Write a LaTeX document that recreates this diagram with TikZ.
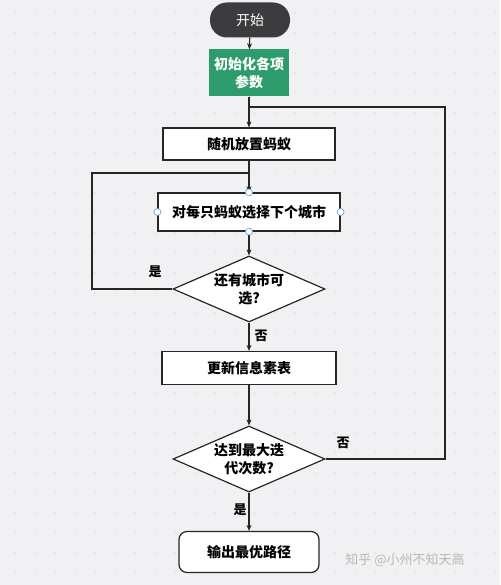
\documentclass[tikz,border=0pt]{standalone}
\usepackage{fontspec}
\newfontfamily\cjk{Noto Sans CJK SC}
\usetikzlibrary{shapes.geometric,arrows.meta}
\definecolor{bgcol}{RGB}{241,241,243}
\definecolor{startcol}{RGB}{60,60,62}
\definecolor{initcol}{RGB}{46,155,108}
\definecolor{pincol}{RGB}{91,155,213}
\tikzset{
  box/.style={draw=black!85,line width=1.2pt,fill=white,minimum width=172pt,minimum height=32pt,inner sep=2pt},
  ask/.style={diamond,aspect=2.3,draw=black!85,line width=1.2pt,fill=white,minimum width=152pt,minimum height=66pt,inner sep=0pt,align=center},
  flow/.style={draw=black!85,line width=1.2pt},
  arr/.style={flow,-{Stealth[length=6pt,width=5pt]}},
  lab/.style={font=\cjk\bfseries\fontsize{13}{15}\selectfont}
}
\begin{document}
\begin{tikzpicture}[x=1pt,y=-1pt,font=\cjk\bfseries\fontsize{14}{18}\selectfont]
\useasboundingbox (0,0) rectangle (500,585);
\fill[bgcol] (0,0) rectangle (500,585);
% dotted grid
\foreach \x in {15,35,...,495}
  \foreach \y in {13,33,...,573}
    \fill[black!22] (\x,\y) circle (0.6pt);
% nodes
\node[rounded corners=17pt,fill=startcol,text=white,minimum width=80pt,minimum height=35pt,font=\cjk\fontsize{14}{18}\selectfont] (start) at (250,20) {开始};
\node[fill=initcol,text=white,minimum width=80pt,minimum height=47pt,align=center,inner sep=1pt] (init) at (249,73) {初始化各项\\参数};
\node[box] (rand) at (249,144) {随机放置蚂蚁};
\node[box,minimum width=182pt,minimum height=38pt] (each) at (249,212) {对每只蚂蚁选择下个城市};
\node[ask] (d1) at (249,289) {还有城市可\\选?};
\node[box,minimum width=174pt,minimum height=33pt] (upd) at (249,368) {更新信息素表};
\node[ask] (d2) at (249,459) {达到最大迭\\代次数?};
\node[box,rounded corners=8pt,minimum width=140pt,minimum height=41pt] (out) at (249,552) {输出最优路径};
% connectors
\coordinate (jR) at (249,107);
\coordinate (lpR) at (445,107);
\coordinate (jL) at (249,173);
\coordinate (lpL) at (92,173);
\draw[arr] (start) -- (init);
\draw[arr] (init) -- (rand);
\draw[arr] (rand) -- (each);
\draw[arr] (each) -- (d1);
\draw[arr] (d1) -- (upd);
\draw[arr] (upd) -- (d2);
\draw[arr] (d2) -- (out);
\draw[flow] (d1.west) -| (lpL) -- (jL);
\draw[flow] (d2.east) -| (lpR) -- (jR);
% pins on the selected box
\foreach \p in {north,south,west,east}
  \draw[pincol,fill=white,line width=0.6pt] (each.\p) circle (3.5pt);
% labels
\node[lab] (yes1) at (155,272) {是};
\node[lab] (no1) at (261,336) {否};
\node[lab] (no2) at (343,443) {否};
\node[lab] (yes2) at (240,510) {是};
\node[font=\cjk\fontsize{13}{15}\selectfont,text=black!28] (mark) at (405,560) {知乎 @小州不知天高};
\end{tikzpicture}
\end{document}
